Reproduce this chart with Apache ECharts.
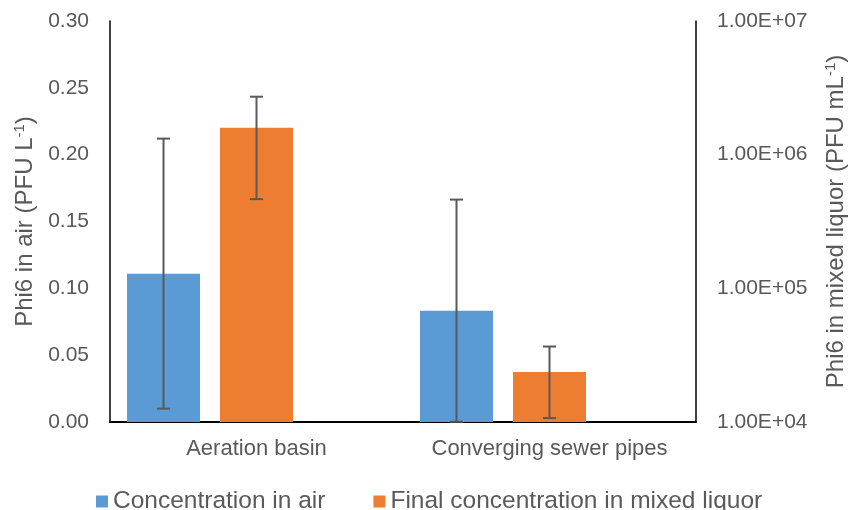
<!DOCTYPE html>
<html>
<head>
<meta charset="utf-8">
<script src="https://cdn.jsdelivr.net/npm/echarts@6/dist/echarts.min.js"></script>
<style>
html, body { margin: 0; padding: 0; background: #fff; }
#container { width: 849px; height: 510px; }
</style>
</head>
<body>
<div id="container"></div>
<script>
var categories = ['Aeration basin', 'Converging sewer pipes'];
var airValues = [0.111, 0.0833];
var airErrors = [0.101, 0.0831];
var liquorValues = [1.59e6, 2.37e4];
var liquorErrors = [1.125e6, 1.3e4];
var leftTicks = { min: 0, max: 0.3, interval: 0.05 };
var rightTicks = { min: 1e4, max: 1e7 };

var barW = 73, barGap = 20;
var textColor = '#595959';
var font = 'Liberation Sans, Arial, sans-serif';

var dom = document.getElementById('container');
var myChart = echarts.init(dom);

function errorData(vals, errs) {
    return vals.map(function (v, i) { return [i, v, errs[i]]; });
}

function errorSeries(name, yIdx, data, offset) {
    return {
        type: 'custom',
        name: name + ' err',
        yAxisIndex: yIdx,
        silent: true,
        z: 5,
        data: data,
        renderItem: function (params, api) {
            var c = api.value(0), v = api.value(1), e = api.value(2);
            var lo = Math.max(v - e, yIdx === 0 ? 0 : rightTicks.min);
            var top = api.coord([c, v + e]);
            var bot = api.coord([c, lo]);
            var x = top[0] + offset;
            var half = 6.5;
            var st = { stroke: '#595959', lineWidth: 2 };
            return {
                type: 'group',
                children: [
                    { type: 'line', shape: { x1: x, y1: top[1], x2: x, y2: bot[1] }, style: st },
                    { type: 'line', shape: { x1: x - half, y1: top[1], x2: x + half, y2: top[1] }, style: st },
                    { type: 'line', shape: { x1: x - half, y1: bot[1], x2: x + half, y2: bot[1] }, style: st }
                ]
            };
        }
    };
}

function expLabel(v) {
    var s = v.toExponential(2).toUpperCase().split('E');
    var sign = s[1].charAt(0) === '-' ? '-' : '+';
    var ex = s[1].replace('+', '').replace('-', '');
    if (ex.length < 2) ex = '0' + ex;
    return s[0] + 'E' + sign + ex;
}

var nameStyle = {
    fontSize: 24, color: textColor,
    rich: { sup: { fontSize: 15, color: textColor, padding: [0, 0, 11, 0] } }
};

var option = {
    animation: false,
    textStyle: { fontFamily: font },
    grid: { left: 110, right: 153, top: 21, bottom: 88, outerBoundsMode: 'none', containLabel: false },
    legend: {
        data: ['Concentration in air', 'Final concentration in mixed liquor'],
        left: 91,
        top: 484,
        itemWidth: 12,
        itemHeight: 12,
        itemGap: 48,
        icon: 'rect',
        textStyle: { fontSize: 24.5, color: textColor, fontFamily: font }
    },
    xAxis: {
        type: 'category',
        data: categories,
        axisLine: { lineStyle: { color: '#000', width: 2 } },
        axisTick: { length: 6, lineStyle: { color: '#000', width: 1.5 } },
        axisLabel: { fontSize: 22, color: textColor, margin: 16, interval: 0, hideOverlap: false }
    },
    yAxis: [
        {
            type: 'value',
            min: leftTicks.min,
            max: leftTicks.max,
            interval: leftTicks.interval,
            name: 'Phi6 in air (PFU L{sup|-1})',
            nameLocation: 'middle',
            nameGap: 72,
            nameTextStyle: nameStyle,
            axisLine: { show: true, lineStyle: { color: '#000', width: 1.5 } },
            axisTick: { show: false },
            splitLine: { show: false },
            axisLabel: {
                fontSize: 21, color: textColor, margin: 21,
                formatter: function (v) { return v.toFixed(2); }
            }
        },
        {
            type: 'log',
            logBase: 10,
            min: rightTicks.min,
            max: rightTicks.max,
            position: 'right',
            name: 'Phi6 in mixed liquor (PFU mL{sup|-1})',
            nameLocation: 'middle',
            nameGap: 127,
            nameTextStyle: nameStyle,
            axisLine: { show: true, lineStyle: { color: '#000', width: 1.5 } },
            axisTick: { show: false },
            splitLine: { show: false },
            axisLabel: {
                fontSize: 21, color: textColor, margin: 21,
                formatter: expLabel
            }
        }
    ],
    series: [
        {
            name: 'Concentration in air',
            type: 'bar',
            yAxisIndex: 0,
            barWidth: barW,
            barGap: (barGap / barW * 100).toFixed(1) + '%',
            itemStyle: { color: '#5B9BD5' },
            data: airValues
        },
        {
            name: 'Final concentration in mixed liquor',
            type: 'bar',
            yAxisIndex: 1,
            barWidth: barW,
            clip: true,
            itemStyle: { color: '#ED7D31' },
            data: liquorValues
        },
        {
            name: 'spacer',
            type: 'bar',
            yAxisIndex: 0,
            barWidth: barW,
            silent: true,
            itemStyle: { color: 'rgba(0,0,0,0)' },
            data: categories.map(function () { return 0; })
        },
        errorSeries('Concentration in air', 0, errorData(airValues, airErrors), -(barW + barGap)),
        errorSeries('Final concentration in mixed liquor', 1, errorData(liquorValues, liquorErrors), 0)
    ]
};

if (option && typeof option === "object") {
    myChart.setOption(option, true);
}
</script>
</body>
</html>
